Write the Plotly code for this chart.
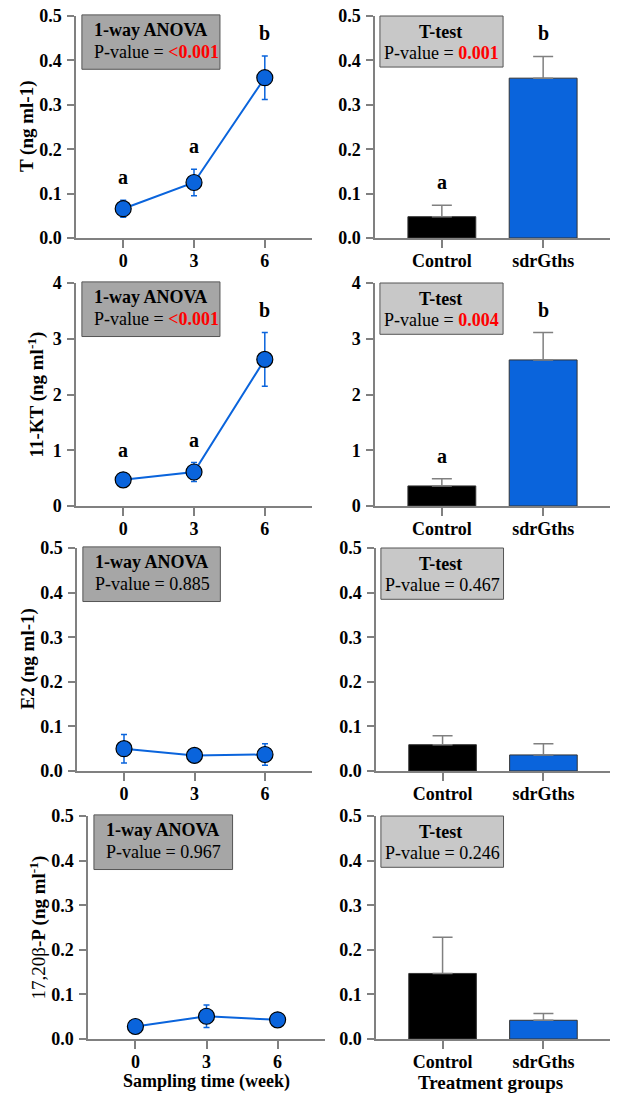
import plotly.graph_objects as go

# ---------------- data ----------------
time_weeks = [0, 3, 6]
groups = ["Control", "sdrGths"]

T_mean = [0.066, 0.125, 0.361]
T_err = [0.019, 0.030, 0.049]
KT_mean = [0.47, 0.61, 2.63]
KT_err = [0.12, 0.17, 0.48]
E2_mean = [0.050, 0.035, 0.037]
E2_err = [0.032, 0.005, 0.024]
P_mean = [0.028, 0.051, 0.043]
P_err = [0.004, 0.025, 0.013]

T_bar = [0.048, 0.360]
T_bar_err = [0.026, 0.049]
KT_bar = [0.36, 2.62]
KT_bar_err = [0.13, 0.49]
E2_bar = [0.059, 0.036]
E2_bar_err = [0.020, 0.025]
P_bar = [0.147, 0.042]
P_bar_err = [0.081, 0.015]

line_letters = [["a", "a", "b"], ["a", "a", "b"], None, None]
bar_letters = [["a", "b"], ["a", "b"], None, None]

anova_p = ["<0.001", "<0.001", "0.885", "0.967"]
anova_sig = [True, True, False, False]
ttest_p = ["0.001", "0.004", "0.467", "0.246"]
ttest_sig = [True, True, False, False]

y_titles = [
    "<b>T (ng ml-1)</b>",
    "<b>11-KT (ng ml<sup>-1</sup>)</b>",
    "<b>E2 (ng ml-1)</b>",
    "17,20β<b>-P (ng ml<sup>-1</sup>)</b>",
]
y_ranges = [[0, 0.5], [0, 4], [0, 0.5], [0, 0.5]]
y_dticks = [0.1, 1, 0.1, 0.1]
y_formats = [".1f", "d", ".1f", ".1f"]

line_means = [T_mean, KT_mean, E2_mean, P_mean]
line_errs = [T_err, KT_err, E2_err, P_err]
bar_means = [T_bar, KT_bar, E2_bar, P_bar]
bar_errs = [T_bar_err, KT_bar_err, E2_bar_err, P_bar_err]

# ---------------- layout geometry (pixels) ----------------
W, H = 617, 1095
FONT = "Liberation Serif"
row_px = [(16, 238), (283, 506), (548, 771), (816, 1039)]
left_px = [(76, 312), (76, 312), (77, 312), (88, 325)]
right_px = [(375, 610), (375, 610), (376, 610), (376, 610)]
ytitle_x = [27, 36, 27, 38]

BLUE = "#0a64dc"
AXIS = "#808080"

fig = go.Figure()
layout = dict(
    width=W, height=H, margin=dict(l=0, r=0, t=0, b=0, autoexpand=False),
    paper_bgcolor="white", plot_bgcolor="white", showlegend=False,
    font=dict(family=FONT, color="black"),
)
annotations = []
shapes = []


def ax_common():
    return dict(showline=True, linecolor=AXIS, linewidth=1.5, ticks="outside",
                tickcolor=AXIS, tickwidth=1.5, showgrid=False, zeroline=False,
                automargin=False)


def ref(i):
    return "" if i == 1 else str(i)


for r in range(4):
    top, bot = row_px[r]
    ydom = [1 - bot / H, 1 - top / H]
    iL = 2 * r + 1
    iR = 2 * r + 2
    xL, yL = "x" + ref(iL), "y" + ref(iL)
    xR, yR = "x" + ref(iR), "y" + ref(iR)

    # left: line plot
    layout["xaxis" + ref(iL)] = dict(**ax_common(), domain=[left_px[r][0] / W, left_px[r][1] / W],
                                     anchor=yL, range=[-2, 8], tickvals=time_weeks, ticklen=8,
                                     ticklabelstandoff=-2,
                                     tickfont=dict(family=FONT, size=18, weight="bold"))
    layout["yaxis" + ref(iL)] = dict(**ax_common(), domain=ydom, anchor=xL, range=y_ranges[r],
                                     dtick=y_dticks[r], tick0=0, tickformat=y_formats[r], ticklen=7,
                                     ticklabelstandoff=2,
                                     tickfont=dict(family=FONT, size=18, weight="bold"))
    # right: bars
    layout["xaxis" + ref(iR)] = dict(**ax_common(), domain=[right_px[r][0] / W, right_px[r][1] / W],
                                     anchor=yR, range=[-0.66, 1.66], tickvals=[0, 1], ticktext=groups,
                                     ticklen=8, ticklabelstandoff=-2,
                                     tickfont=dict(family=FONT, size=18, weight="bold"))
    layout["yaxis" + ref(iR)] = dict(**ax_common(), domain=ydom, anchor=xR, range=y_ranges[r],
                                     dtick=y_dticks[r], tick0=0, tickformat=y_formats[r], ticklen=7,
                                     ticklabelstandoff=2,
                                     tickfont=dict(family=FONT, size=18, weight="bold"))

    fig.add_trace(go.Scatter(
        x=time_weeks, y=line_means[r], mode="lines+markers", xaxis=xL, yaxis=yL,
        line=dict(color=BLUE, width=2),
        marker=dict(size=16, color=BLUE, line=dict(color="black", width=1.2)),
        error_y=dict(type="data", array=line_errs[r], color=BLUE, thickness=1.5, width=3),
        cliponaxis=False,
    ))
    fig.add_trace(go.Bar(
        x=[0, 1], y=bar_means[r], xaxis=xR, yaxis=yR, width=0.67,
        marker=dict(color=["black", BLUE], line=dict(color="#333333", width=1)),
        error_y=dict(type="data", symmetric=False, array=bar_errs[r],
                     arrayminus=[0, 0], color="#808080", thickness=1.5, width=10),
    ))

    # significance letters
    if line_letters[r]:
        for xv, m, e, t in zip(time_weeks, line_means[r], line_errs[r], line_letters[r]):
            annotations.append(dict(x=xv, y=m + e, xref=xL, yref=yL, text=f"<b>{t}</b>",
                                    showarrow=False, yshift=23, yanchor="middle",
                                    font=dict(family=FONT, size=20, color="black")))
    if bar_letters[r]:
        for xv, m, e, t in zip([0, 1], bar_means[r], bar_errs[r], bar_letters[r]):
            annotations.append(dict(x=xv, y=m + e, xref=xR, yref=yR, text=f"<b>{t}</b>",
                                    showarrow=False, yshift=23, yanchor="middle",
                                    font=dict(family=FONT, size=20, color="black")))

    # stats boxes
    shapes.append(dict(type="rect", xref=f"{xL} domain", yref=f"{yL} domain",
                       x0=0.025, x1=0.61, y0=0.76, y1=1.005,
                       fillcolor="#a6a6a6", line=dict(color="#555555", width=1), layer="below"))
    shapes.append(dict(type="rect", xref=f"{xR} domain", yref=f"{yR} domain",
                       x0=0.021, x1=0.545, y0=0.77, y1=1.0,
                       fillcolor="#c8c8c8", line=dict(color="#555555", width=1), layer="below"))

    pa = (f"<b><span style='color:#ff0000'>{anova_p[r].replace('<', '&lt;')}</span></b>"
          if anova_sig[r] else anova_p[r])
    pt = (f"<b><span style='color:#ff0000'>{ttest_p[r]}</span></b>"
          if ttest_sig[r] else ttest_p[r])
    annotations += [
        dict(xref=f"{xL} domain", yref=f"{yL} domain", x=0.068, y=0.937, xanchor="left",
             yanchor="middle", showarrow=False, text="<b>1-way ANOVA</b>",
             font=dict(family=FONT, size=18, color="black")),
        dict(xref=f"{xL} domain", yref=f"{yL} domain", x=0.068, y=0.838, xanchor="left",
             yanchor="middle", showarrow=False, text=f"P-value = {pa}",
             font=dict(family=FONT, size=18, color="black")),
        dict(xref=f"{xR} domain", yref=f"{yR} domain", x=0.277, y=0.928, xanchor="center",
             yanchor="middle", showarrow=False, text="<b>T-test</b>",
             font=dict(family=FONT, size=18, color="black")),
        dict(xref=f"{xR} domain", yref=f"{yR} domain", x=0.03, y=0.833, xanchor="left",
             yanchor="middle", showarrow=False, text=f"P-value = {pt}",
             font=dict(family=FONT, size=18, color="black")),
    ]

    # y-axis titles
    annotations.append(dict(xref="paper", yref="paper", x=ytitle_x[r] / W,
                            y=1 - (top + bot) / 2 / H, textangle=-90, showarrow=False,
                            xanchor="center", yanchor="middle", text=y_titles[r],
                            font=dict(family=FONT, size=19, color="black")))

# x-axis titles
annotations.append(dict(xref="paper", yref="paper", x=206 / W, y=1 - 1081 / H,
                        showarrow=False, xanchor="center", yanchor="middle",
                        text="<b>Sampling time (week)</b>",
                        font=dict(family=FONT, size=18, color="black")))
annotations.append(dict(xref="paper", yref="paper", x=490 / W, y=1 - 1082 / H,
                        showarrow=False, xanchor="center", yanchor="middle",
                        text="<b>Treatment groups</b>",
                        font=dict(family=FONT, size=19, color="black")))

layout["annotations"] = annotations
layout["shapes"] = shapes
fig.update_layout(**layout)
fig.write_html("out.html")
